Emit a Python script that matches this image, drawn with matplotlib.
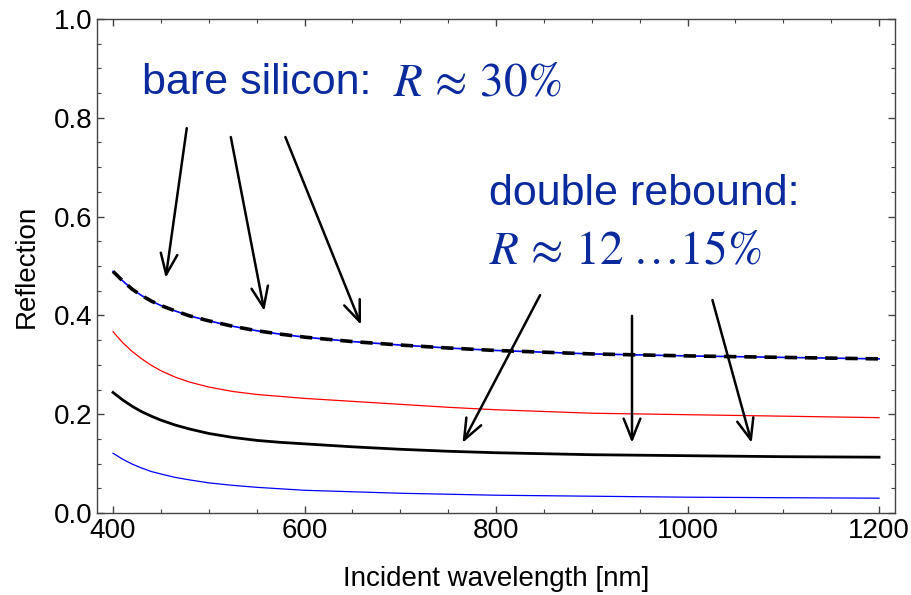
import numpy as np
import matplotlib.pyplot as plt
from matplotlib.ticker import MultipleLocator

plt.rcParams['font.family'] = ['Liberation Sans', 'DejaVu Sans']
plt.rcParams['mathtext.fontset'] = 'stix'

# wavelength grid (nm)
wavelength = [400, 410, 420, 430, 440, 450, 465, 480, 500, 525, 550, 575,
              600, 650, 700, 750, 800, 900, 1000, 1100, 1200]

# reflection curves
bare_silicon = [0.489, 0.470, 0.453, 0.440, 0.429, 0.420, 0.409, 0.399, 0.389, 0.378, 0.369,
                0.362, 0.356, 0.347, 0.340, 0.334, 0.329, 0.322, 0.318, 0.315, 0.312]
red_curve = [0.367, 0.345, 0.327, 0.312, 0.299, 0.288, 0.275, 0.265, 0.255, 0.246, 0.240,
             0.236, 0.232, 0.226, 0.220, 0.214, 0.209, 0.202, 0.199, 0.196, 0.193]
double_rebound = [0.244, 0.229, 0.216, 0.205, 0.196, 0.188, 0.178, 0.170, 0.161, 0.153, 0.147,
                  0.143, 0.140, 0.134, 0.129, 0.125, 0.122, 0.118, 0.116, 0.114, 0.113]
blue_curve = [0.121, 0.109, 0.099, 0.091, 0.084, 0.079, 0.072, 0.067, 0.061, 0.056, 0.052,
              0.049, 0.046, 0.043, 0.040, 0.038, 0.036, 0.034, 0.032, 0.031, 0.030]

# arrows: (tail_x, tail_y, head_x, head_y) in data units
arrows_bare = [(477, 0.779, 455, 0.476),
               (523, 0.761, 558, 0.409),
               (580, 0.761, 659, 0.381)]
arrows_double = [(846, 0.441, 765, 0.142),
                 (942, 0.399, 942, 0.142),
                 (1026, 0.431, 1067, 0.142)]

text_blue = '#0A2A9E'

fig = plt.figure(figsize=(9.12, 5.95), dpi=100)
ax = fig.add_axes([0.1064, 0.1378, 0.8750, 0.8303])

ax.plot(wavelength, bare_silicon, color='blue', lw=1.2)
ax.plot(wavelength, bare_silicon, color='black', lw=2.6, dashes=(3.4, 2.2))
ax.plot(wavelength, red_curve, color='red', lw=0.9)
ax.plot(wavelength, double_rebound, color='black', lw=2.0)
ax.plot(wavelength, blue_curve, color='blue', lw=0.9)

for tx, ty, hx, hy in arrows_bare + arrows_double:
    ax.annotate('', xy=(hx, hy), xytext=(tx, ty),
                arrowprops=dict(arrowstyle='->,head_length=1.5,head_width=0.6',
                                color='black', lw=1.8, shrinkA=0, shrinkB=0))

ax.text(430, 0.87, 'bare silicon:', color=text_blue,
        fontsize=31, va='center', ha='left')
ax.text(692, 0.87, r'$R\,\approx\,30\%$', color=text_blue,
        fontsize=34, va='center', ha='left')
ax.text(793, 0.645, 'double rebound:', color=text_blue,
        fontsize=31, va='center', ha='left')
ax.text(793, 0.53, r'$R\,\approx\,12\;\ldots15\%$', color=text_blue,
        fontsize=34, va='center', ha='left')

ax.set_xlim(383.3, 1216.7)
ax.set_ylim(0, 1.0)
ax.xaxis.set_major_locator(MultipleLocator(200))
ax.xaxis.set_minor_locator(MultipleLocator(50))
ax.yaxis.set_major_locator(MultipleLocator(0.2))
ax.yaxis.set_minor_locator(MultipleLocator(0.05))
ax.yaxis.set_major_formatter(plt.FuncFormatter(lambda v, p: f'{v:.1f}'))
ax.tick_params(which='both', direction='in', top=True, right=True,
               labelsize=20, color='#444444')
ax.tick_params(which='major', length=5, width=1)
ax.tick_params(which='minor', length=3, width=0.8)
for s in ax.spines.values():
    s.set_color('#444444')
    s.set_linewidth(1.0)

ax.set_xlabel('Incident wavelength [nm]', fontsize=20, labelpad=16)
ax.set_ylabel('Reflection', fontsize=20, labelpad=10)

fig.savefig('out.png', dpi=100)
